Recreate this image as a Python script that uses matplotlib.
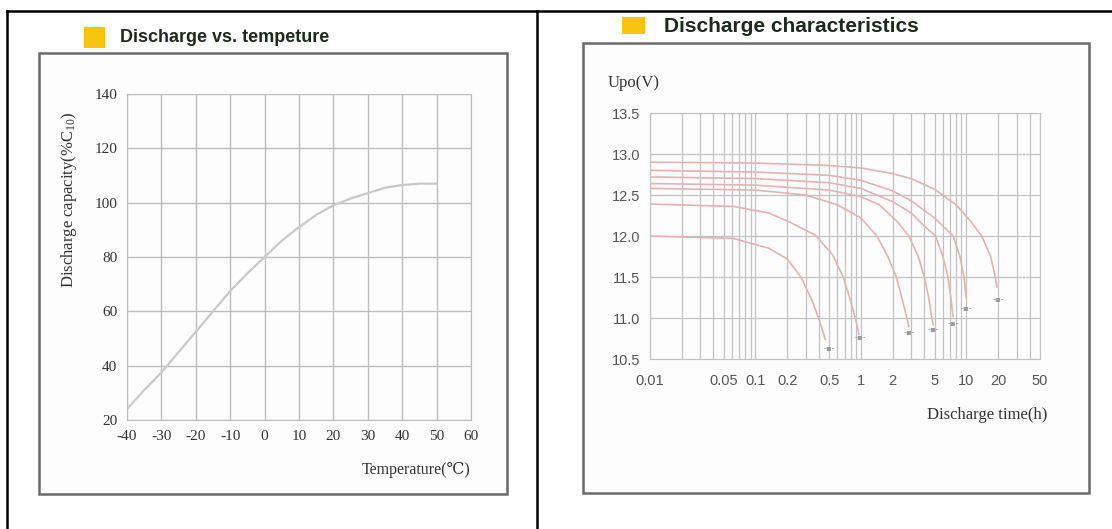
import numpy as np
import matplotlib
matplotlib.use("Agg")
import matplotlib.pyplot as plt
from matplotlib.patches import Rectangle
from matplotlib.ticker import FixedLocator, NullFormatter, LogLocator

plt.rcParams['axes.unicode_minus'] = False

W, H = 1112, 529

# --- left chart: capacity vs temperature
temp = [-40, -35, -30, -25, -20, -15, -10, -5, 0, 5, 10, 15, 20, 25, 30, 35, 40, 45, 50]
capacity = [24, 31, 37.5, 45, 52.5, 60, 67.5, 74, 80, 86, 91, 95.5, 99, 101.5, 103.5, 105.5, 106.5, 107, 107]
temp_ticks = [-40, -30, -20, -10, 0, 10, 20, 30, 40, 50, 60]
cap_ticks = [20, 40, 60, 80, 100, 120, 140]

# --- right chart: discharge curves, time (h) vs voltage (V)
curve_a_t = [0.01, 0.062, 0.134, 0.2, 0.27, 0.34, 0.4, 0.46]
curve_a_v = [12.0, 11.97, 11.85, 11.72, 11.5, 11.23, 10.99, 10.74]
curve_b_t = [0.01, 0.062, 0.134, 0.21, 0.37, 0.54, 0.68, 0.79, 0.89, 0.96]
curve_b_v = [12.39, 12.36, 12.28, 12.17, 12.01, 11.77, 11.5, 11.23, 10.99, 10.8]
curve_c_t = [0.01, 0.1, 0.3, 0.6, 1.0, 1.42, 1.8, 2.17, 2.5, 2.73, 2.85]
curve_c_v = [12.58, 12.56, 12.5, 12.38, 12.22, 12.0, 11.75, 11.5, 11.2, 11.0, 10.9]
curve_d_t = [0.01, 0.1, 0.5, 1, 1.5, 2.2, 2.85, 3.5, 4.0, 4.4, 4.7, 4.85]
curve_d_v = [12.64, 12.62, 12.56, 12.48, 12.38, 12.18, 12.0, 11.75, 11.5, 11.25, 11.0, 10.92]
curve_e_t = [0.01, 0.1, 0.5, 1, 2, 3, 4, 5.1, 6, 6.7, 7.2, 7.5]
curve_e_v = [12.72, 12.7, 12.65, 12.58, 12.42, 12.28, 12.12, 12.0, 11.75, 11.5, 11.2, 11.02]
curve_f_t = [0.01, 0.1, 0.5, 1, 2, 3, 5, 7.5, 8.7, 9.5, 10]
curve_f_v = [12.8, 12.78, 12.74, 12.68, 12.55, 12.43, 12.22, 12.0, 11.75, 11.5, 11.25]
curve_g_t = [0.01, 0.1, 0.5, 1, 2, 3, 5, 8, 11, 14, 17, 18.5, 19.5]
curve_g_v = [12.9, 12.89, 12.86, 12.83, 12.76, 12.7, 12.57, 12.38, 12.18, 12.0, 11.75, 11.55, 11.38]
curves = [(curve_a_t, curve_a_v), (curve_b_t, curve_b_v), (curve_c_t, curve_c_v),
          (curve_d_t, curve_d_v), (curve_e_t, curve_e_v), (curve_f_t, curve_f_v),
          (curve_g_t, curve_g_v)]
# end marks under each curve
end_t = [0.5, 1.0, 2.9, 4.9, 7.6, 10, 20]
end_v = [10.64, 10.77, 10.83, 10.87, 10.95, 11.13, 11.24]

time_ticks = [0.01, 0.05, 0.1, 0.2, 0.5, 1, 2, 5, 10, 20, 50]
time_labels = ['0.01', '0.05', '0.1', '0.2', '0.5', '1', '2', '5', '10', '20', '50']
volt_ticks = [10.5, 11.0, 11.5, 12.0, 12.5, 13.0, 13.5]
volt_labels = ['10.5', '11.0', '11.5', '12.0', '12.5', '13.0', '13.5']

SERIF = ['Liberation Serif', 'DejaVu Serif']
SANS = ['Liberation Sans', 'DejaVu Sans']
GRID = '#bdbdbd'
YELLOW = '#f6c40c'


def px_axes(x0, y0, x1, y1):
    return fig.add_axes([x0 / W, 1 - y1 / H, (x1 - x0) / W, (y1 - y0) / H])


fig = plt.figure(figsize=(W / 100, H / 100), dpi=100, facecolor='white')

# background layer in pixel coordinates
bg = fig.add_axes([0, 0, 1, 1])
bg.set_xlim(0, W)
bg.set_ylim(H, 0)
bg.axis('off')

# table border
bg.plot([7, 7], [11, H], color='black', lw=1.8)
bg.plot([7, W], [11, 11], color='black', lw=1.8)
bg.plot([537, 537], [11, H], color='black', lw=1.8)

# panel boxes
bg.add_patch(Rectangle((39, 53), 468, 441, fill=True, facecolor='#fdfdfd', edgecolor='#6a6a6a', lw=1.8))
bg.add_patch(Rectangle((583, 43), 506, 450, fill=True, facecolor='#fdfdfd', edgecolor='#6a6a6a', lw=1.8))

# titles
bg.add_patch(Rectangle((84, 27), 21, 21, color=YELLOW, lw=0))
bg.text(120, 38, 'Discharge vs. tempeture', family=SANS, weight='bold', fontsize=13,
        color='#1e281e', va='center', ha='left')
bg.add_patch(Rectangle((622, 17), 23, 17, color=YELLOW, lw=0))
bg.text(664, 27, 'Discharge characteristics', family=SANS, weight='bold', fontsize=15,
        color='#1e2a1e', va='center', ha='left')

# axis labels
bg.text(69, 200, 'Discharge capacity(%C$\\mathregular{_{10}}$)', family=SERIF, fontsize=12,
        rotation=90, va='center', ha='center', color='#333333')
bg.text(470, 470, 'Temperature(\u2103)', family=SERIF, fontsize=11.5,
        va='center', ha='right', color='#333333')
bg.text(608, 83, 'Upo(V)', family=SERIF, fontsize=12, va='center', ha='left', color='#333333')
bg.text(1047, 415, 'Discharge time(h)', family=SERIF, fontsize=12,
        va='center', ha='right', color='#333333')

# --- left chart
ax1 = px_axes(127, 94, 471, 420)
ax1.set_facecolor('none')
ax1.plot(temp, capacity, color='#c9c9c9', lw=1.6)
ax1.set_xlim(-40, 60)
ax1.set_ylim(20, 140)
ax1.set_xticks(temp_ticks)
ax1.set_yticks(cap_ticks)
ax1.grid(True, color=GRID, lw=1)
ax1.set_axisbelow(True)
for s in ax1.spines.values():
    s.set_color(GRID)
ax1.tick_params(length=0, pad=7, labelsize=11, labelcolor='#333333')
for lab in ax1.get_xticklabels() + ax1.get_yticklabels():
    lab.set_family(SERIF)

# --- right chart
ax2 = px_axes(650, 113, 1040, 359)
ax2.set_facecolor('none')
ax2.set_xscale('log')
for t, v in curves:
    ax2.plot(t, v, color='#e4b2b2', lw=1.2)
for t, v in zip(end_t, end_v):
    ax2.text(t, v, '-\u25aa-', fontsize=6, color='#9a9a9a', ha='center', va='center')
ax2.set_xlim(0.01, 50)
ax2.set_ylim(10.5, 13.5)
ax2.xaxis.set_major_locator(FixedLocator(time_ticks))
ax2.set_xticklabels(time_labels)
ax2.xaxis.set_minor_locator(LogLocator(base=10, subs=np.arange(2, 10)))
ax2.xaxis.set_minor_formatter(NullFormatter())
ax2.set_yticks(volt_ticks)
ax2.set_yticklabels(volt_labels)
ax2.grid(True, which='both', color='#c2c2c2', lw=0.9)
ax2.set_axisbelow(True)
for s in ax2.spines.values():
    s.set_color('#c2c2c2')
ax2.tick_params(which='both', length=0)
ax2.tick_params(axis='y', pad=7, labelsize=10.5, labelcolor='#555555')
ax2.tick_params(axis='x', pad=11, labelsize=10.5, labelcolor='#555555')
for lab in ax2.get_xticklabels() + ax2.get_yticklabels():
    lab.set_family(SANS)

fig.savefig('out.png', dpi=100, facecolor='white')
